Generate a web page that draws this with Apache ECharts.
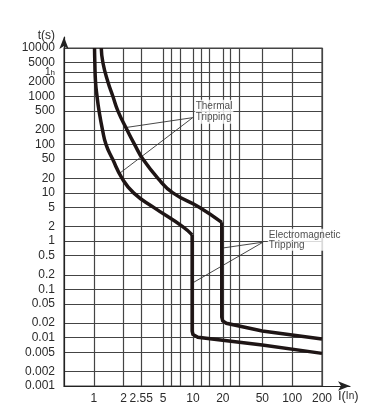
<!DOCTYPE html>
<html><head><meta charset="utf-8">
<script src="https://cdn.jsdelivr.net/npm/echarts@6/dist/echarts.min.js"></script>
<style>html,body{margin:0;padding:0;background:#fff}#c{width:372px;height:415px}</style>
</head><body><div id="c"></div>
<script>
// ---- axis ticks / grid ----
const xGridValues = [1, 2, 3, 5, 6.1, 7.5, 10, 12.2, 14.5, 20, 23.6, 29.6, 50, 100, 200];
const xTickValues = [1, 2, 3, 5, 10, 20, 50, 100, 200];
const xTickLabels = ['1', '2', '2.55', '5', '10', '20', '50', '100', '200'];
const yTickValues = [0.001, 0.002, 0.005, 0.01, 0.02, 0.05, 0.1, 0.2, 0.5, 1, 2, 5, 10, 20, 50, 100, 200, 500, 1000, 2000, 3200, 5000, 10000];
const yTickLabels = ['0.001', '0.002', '0.005', '0.01', '0.02', '0.05', '0.1', '0.2', '0.5', '1', '2', '5', '10', '20', '50', '100', '200', '500', '1000', '2000', '{n|1}{h|h}', '5000', '10000'];

// ---- lower curve (A) ----
const thermalA_I = [1.016, 1.023, 1.040, 1.077, 1.128, 1.224, 1.328, 1.545, 1.927, 2.517, 4.01, 7.87, 9.8];
const thermalA_t = [10000, 5000, 2000, 1000, 500, 200, 100, 50, 20, 10, 5, 2, 1.35];
const magneticA_I = [9.8, 9.8, 9.98, 10.4, 11.2, 50, 200];
const magneticA_t = [1.35, 0.0138, 0.0117, 0.0107, 0.0102, 0.00706, 0.00474];

// ---- upper curve (B) ----
const thermalB_I = [1.188, 1.233, 1.385, 1.555, 1.747, 2.166, 2.58, 3.12, 4.43, 6.27, 11.67, 19.5];
const thermalB_t = [10000, 5000, 2000, 1000, 500, 200, 100, 50, 20, 10, 5, 2.45];
const magneticB_I = [19.5, 19.5, 19.95, 21.7, 50, 200];
const magneticB_t = [2.45, 0.0269, 0.0222, 0.0199, 0.01377, 0.0094];

// ---- annotations ----
const thermalNoteFrom = [9.93, 361];
const thermalNoteTo = [[2.09, 225], [1.8, 25]];
const thermalNoteAt = [10.4, 480];
const thermalNoteText = 'Thermal\nTripping';
const emNoteFrom = [50.9, 0.953];
const emNoteTo = [[19.5, 0.716], [9.8, 0.1345]];
const emNoteAt = [56.8, 1.064];
const emNoteText = 'Electromagnetic\nTripping';

const zip = (a, b) => a.map((v, i) => [v, b[i]]);
const findIdx = (arr, v) => arr.findIndex(a => Math.abs(Math.log10(a) - Math.log10(v)) < 1e-6);

const curveStyle = { color: '#1e1515', width: 3.5, cap: 'butt', join: 'miter' };
const noteStyle = { color: '#333', width: 0.9 };
const gridLine = { show: true, lineStyle: { color: '#444', width: 1.2 } };
const fontFam = '"Liberation Sans", Arial, sans-serif';
const txt = '#2b2b2b';

const series = [
  { type: 'line', data: zip(thermalA_I, thermalA_t), smooth: 0.5, showSymbol: false, lineStyle: curveStyle, z: 5 },
  { type: 'line', data: zip(magneticA_I, magneticA_t), smooth: false, showSymbol: false, lineStyle: curveStyle, z: 5 },
  { type: 'line', data: zip(thermalB_I, thermalB_t), smooth: 0.5, showSymbol: false, lineStyle: curveStyle, z: 5 },
  { type: 'line', data: zip(magneticB_I, magneticB_t), smooth: false, showSymbol: false, lineStyle: curveStyle, z: 5 }
];
thermalNoteTo.forEach(p => series.push({ type: 'line', data: [thermalNoteFrom, p], showSymbol: false, lineStyle: noteStyle, z: 4 }));
emNoteTo.forEach(p => series.push({ type: 'line', data: [emNoteFrom, p], showSymbol: false, lineStyle: noteStyle, z: 4 }));
series.push({
  type: 'scatter', symbolSize: 0, z: 6,
  data: [
    { value: thermalNoteAt, label: { formatter: thermalNoteText, lineHeight: 11 } },
    { value: emNoteAt, label: { formatter: emNoteText, lineHeight: 10 } }
  ],
  label: { show: true, position: 'right', distance: 0, fontSize: 10, fontFamily: fontFam, color: '#222', backgroundColor: '#fff', padding: [1, 1, 1, 1] }
});

const chart = echarts.init(document.getElementById('c'), null, { renderer: 'canvas' });
chart.setOption({
  animation: false,
  backgroundColor: '#fff',
  grid: [
    { left: 64, right: 50, top: 48, bottom: 29, show: true, borderColor: '#444', borderWidth: 1.2 },
    { left: 64, right: 22, top: 37, bottom: 29 }
  ],
  xAxis: [
    {
      type: 'log', logBase: 10, min: 0.5, max: 200, gridIndex: 0,
      axisLine: { show: false },
      axisTick: { show: false, customValues: xGridValues },
      splitLine: gridLine,
      axisLabel: {
        customValues: xTickValues, margin: 7, fontSize: 12, fontFamily: fontFam, color: txt,
        formatter: v => { const i = findIdx(xTickValues, v); return i >= 0 ? xTickLabels[i] : ''; }
      },
      name: '{a|I(}{b|In}{a|)}', nameLocation: 'end', nameGap: 10,
      nameTextStyle: {
        align: 'left', verticalAlign: 'top', padding: [4, 0, 0, 0],
        rich: { a: { fontSize: 13, fontFamily: fontFam, color: txt }, b: { fontSize: 10, fontFamily: fontFam, color: txt } }
      }
    },
    {
      type: 'value', min: 0, max: 1, gridIndex: 1,
      axisLine: { show: true, symbol: ['none', 'arrow'], symbolSize: [7, 12], lineStyle: { color: '#222', width: 1.2 } },
      axisTick: { show: false }, axisLabel: { show: false }, splitLine: { show: false }
    }
  ],
  yAxis: [
    {
      type: 'log', logBase: 10, min: 0.001, max: 10000, gridIndex: 0,
      axisLine: { show: false },
      axisTick: { show: false, customValues: yTickValues },
      splitLine: gridLine,
      axisLabel: {
        customValues: yTickValues, margin: 9, fontSize: 12, fontFamily: fontFam, color: txt,
        formatter: v => { const i = findIdx(yTickValues, v); return i >= 0 ? yTickLabels[i] : ''; },
        rich: { n: { fontSize: 10, fontFamily: fontFam, color: txt }, h: { fontSize: 8, fontFamily: fontFam, color: txt, verticalAlign: 'bottom' } }
      },
      name: 't(s)', nameLocation: 'end', nameGap: 1,
      nameTextStyle: { align: 'right', verticalAlign: 'middle', padding: [0, 9, 0, 0], fontSize: 12, fontFamily: fontFam, color: txt }
    },
    {
      type: 'value', min: 0, max: 1, gridIndex: 1,
      axisLine: { show: true, symbol: ['none', 'arrow'], symbolSize: [7, 12], lineStyle: { color: '#222', width: 1.2 } },
      axisTick: { show: false }, axisLabel: { show: false }, splitLine: { show: false }
    }
  ],
  series: series
});
</script>
</body></html>
